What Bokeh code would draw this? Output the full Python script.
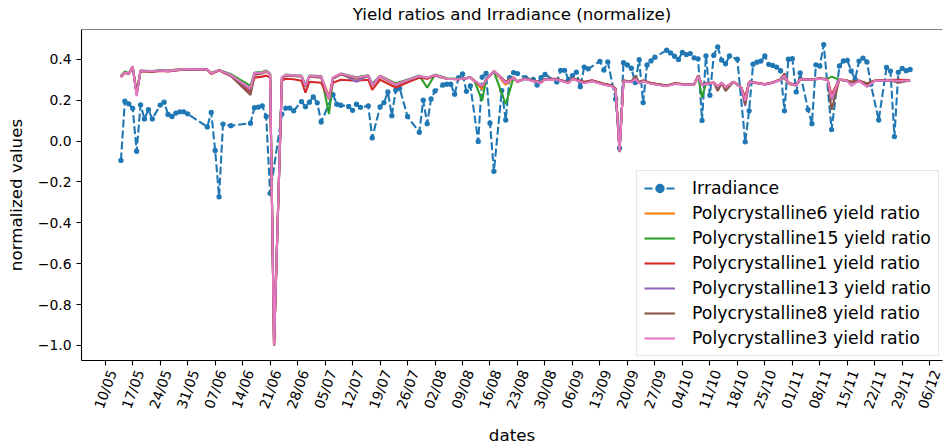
import math
import pandas as pd
from bokeh.plotting import figure
from bokeh.models import (ColumnDataSource, Range1d, FixedTicker, CustomJSTickFormatter,
                          Legend, LegendItem, Span)
from bokeh.embed import file_html
from bokeh.resources import INLINE

YEAR = "2019"

# ---- irradiance (normalized), daily samples ----
irr_dates = ["05-14", "05-15", "05-16", "05-17", "05-18", "05-19", "05-20", "05-21", "05-22", "05-24",
             "05-25", "05-26", "05-27", "05-28", "05-29", "05-30", "05-31", "06-05", "06-06", "06-07",
             "06-08", "06-09", "06-11", "06-16", "06-17", "06-18", "06-19", "06-20", "06-21", "06-24",
             "06-25", "06-26", "06-27", "06-29", "06-30", "07-01", "07-02", "07-03", "07-04", "07-07",
             "07-08", "07-09", "07-11", "07-12", "07-13", "07-14", "07-16", "07-17", "07-19", "07-20",
             "07-21", "07-22", "07-23", "07-24", "07-26", "07-29", "07-30", "07-31", "08-01", "08-02",
             "08-04", "08-05", "08-06", "08-07", "08-08", "08-09", "08-10", "08-11", "08-13", "08-14",
             "08-15", "08-16", "08-17", "08-19", "08-20", "08-21", "08-22", "08-23", "08-25", "08-27",
             "08-28", "08-29", "08-30", "09-02", "09-03", "09-04", "09-05", "09-06", "09-07", "09-08",
             "09-09", "09-10", "09-13", "09-14", "09-15", "09-17", "09-18", "09-19", "09-20", "09-21",
             "09-22", "09-23", "09-24", "09-25", "09-26", "09-27", "09-30", "10-01", "10-02", "10-03",
             "10-04", "10-05", "10-06", "10-07", "10-08", "10-09", "10-10", "10-11", "10-12", "10-13",
             "10-14", "10-15", "10-16", "10-18", "10-20", "10-21", "10-22", "10-23", "10-24", "10-25",
             "10-26", "10-27", "10-28", "10-29", "10-30", "10-31", "11-01", "11-02", "11-03", "11-05",
             "11-06", "11-07", "11-08", "11-09", "11-11", "11-13", "11-14", "11-15", "11-16", "11-17",
             "11-18", "11-19", "11-20", "11-21", "11-23", "11-25", "11-26", "11-27", "11-28", "11-29",
             "11-30", "12-01"]
irradiance = [-0.095, 0.195, 0.182, 0.16, -0.05, 0.177, 0.108, 0.153, 0.108, 0.176,
              0.19, 0.13, 0.12, 0.137, 0.143, 0.143, 0.133, 0.069, 0.14, -0.046,
              -0.273, 0.083, 0.075, 0.087, 0.163, 0.166, 0.172, 0.12, -0.256, 0.132,
              0.161, 0.161, 0.148, 0.193, 0.168, 0.19, 0.216, 0.187, 0.093, 0.227,
              0.18, 0.175, 0.169, 0.15, 0.18, 0.165, 0.172, 0.015, 0.167, 0.188,
              0.24, 0.124, 0.25, 0.258, 0.12, 0.043, 0.2, 0.085, 0.206, 0.245,
              0.274, 0.278, 0.278, 0.229, 0.31, 0.328, 0.243, 0.27, -0.002, 0.313,
              0.331, 0.087, -0.148, 0.247, 0.103, 0.31, 0.335, 0.33, 0.31, 0.302,
              0.274, 0.31, 0.326, 0.289, 0.346, 0.346, 0.302, 0.32, 0.337, 0.266,
              0.362, 0.353, 0.39, 0.347, 0.387, 0.205, -0.035, 0.383, 0.372, 0.356,
              0.286, 0.398, 0.188, 0.372, 0.392, 0.41, 0.444, 0.431, 0.415, 0.399,
              0.433, 0.423, 0.428, 0.407, 0.402, 0.101, 0.417, 0.224, 0.42, 0.46,
              0.396, 0.378, 0.416, 0.4, -0.004, 0.148, 0.376, 0.386, 0.391, 0.416,
              0.375, 0.37, 0.362, 0.344, 0.148, 0.4, 0.403, 0.24, 0.333, 0.154,
              0.085, 0.373, 0.367, 0.472, 0.056, 0.367, 0.392, 0.395, 0.343, 0.302,
              0.391, 0.406, 0.387, 0.278, 0.103, 0.36, 0.342, 0.022, 0.336, 0.355,
              0.344, 0.35]

# ---- yield ratios (normalized) ----
yield_dates = ["05-14", "05-15", "05-16", "05-17", "05-18", "05-19", "05-22", "05-24", "05-26", "05-28",
               "05-31", "06-05", "06-06", "06-08", "06-11", "06-16", "06-17", "06-19", "06-20", "06-21",
               "06-22", "06-24", "06-25", "06-27", "06-29", "06-30", "07-01", "07-04", "07-06", "07-07",
               "07-09", "07-13", "07-16", "07-17", "07-19", "07-23", "07-27", "07-29", "07-31", "08-02",
               "08-05", "08-08", "08-11", "08-12", "08-14", "08-15", "08-17", "08-20", "08-22", "08-23",
               "08-25", "08-27", "08-29", "08-30", "09-02", "09-05", "09-06", "09-09", "09-11", "09-14",
               "09-16", "09-17", "09-18", "09-19", "09-21", "09-22", "09-23", "09-24", "09-26", "09-30",
               "10-02", "10-05", "10-07", "10-08", "10-09", "10-10", "10-12", "10-13", "10-14", "10-15",
               "10-17", "10-19", "10-20", "10-21", "10-25", "10-27", "10-29", "10-30", "10-31", "11-01",
               "11-02", "11-03", "11-06", "11-08", "11-10", "11-11", "11-13", "11-15", "11-16", "11-18",
               "11-20", "11-22", "11-26", "11-28", "12-01"]

poly6 = [0.315, 0.335, 0.33, 0.362, 0.235, 0.343, 0.34, 0.345, 0.343, 0.348,
         0.352, 0.35, 0.331, 0.347, 0.325, 0.255, 0.33, 0.335, 0.34, 0.326,
         -1.0, 0.31, 0.322, 0.32, 0.318, 0.27, 0.318, 0.315, 0.22, 0.31,
         0.328, 0.31, 0.32, 0.275, 0.318, 0.28, 0.305, 0.318, 0.305, 0.323,
         0.305, 0.302, 0.31, 0.294, 0.253, 0.3, 0.342, 0.275, 0.31, 0.29,
         0.305, 0.294, 0.285, 0.302, 0.302, 0.285, 0.305, 0.285, 0.294, 0.277,
         0.27, 0.253, -0.045, 0.294, 0.289, 0.305, 0.285, 0.294, 0.282, 0.27,
         0.28, 0.277, 0.277, 0.318, 0.275, 0.28, 0.285, 0.265, 0.285, 0.262,
         0.29, 0.262, 0.205, 0.29, 0.277, 0.285, 0.3, 0.312, 0.28, 0.274,
         0.273, 0.302, 0.3, 0.305, 0.3, 0.22, 0.3, 0.294, 0.289, 0.294,
         0.278, 0.294, 0.297, 0.294, 0.296]
poly15 = [0.318, 0.34, 0.332, 0.36, 0.24, 0.345, 0.342, 0.347, 0.345, 0.35,
          0.352, 0.35, 0.333, 0.348, 0.327, 0.27, 0.335, 0.338, 0.345, 0.33,
          -1.0, 0.312, 0.325, 0.322, 0.32, 0.275, 0.32, 0.318, 0.132, 0.305,
          0.33, 0.312, 0.322, 0.28, 0.32, 0.282, 0.307, 0.32, 0.261, 0.325,
          0.307, 0.305, 0.312, 0.296, 0.197, 0.302, 0.34, 0.18, 0.31, 0.29,
          0.305, 0.294, 0.285, 0.302, 0.302, 0.285, 0.305, 0.285, 0.294, 0.277,
          0.27, 0.253, -0.045, 0.294, 0.289, 0.305, 0.285, 0.294, 0.282, 0.27,
          0.28, 0.277, 0.277, 0.318, 0.213, 0.28, 0.285, 0.265, 0.285, 0.262,
          0.29, 0.262, 0.21, 0.29, 0.277, 0.285, 0.3, 0.31, 0.285, 0.278,
          0.273, 0.302, 0.3, 0.305, 0.305, 0.315, 0.3, 0.294, 0.289, 0.294,
          0.28, 0.294, 0.297, 0.293, 0.295]
poly1 = [0.312, 0.333, 0.328, 0.36, 0.232, 0.342, 0.338, 0.343, 0.34, 0.345,
         0.35, 0.348, 0.328, 0.345, 0.318, 0.24, 0.31, 0.315, 0.32, 0.31,
         -1.0, 0.295, 0.305, 0.302, 0.295, 0.237, 0.29, 0.285, 0.205, 0.285,
         0.3, 0.295, 0.3, 0.25, 0.3, 0.262, 0.295, 0.31, 0.305, 0.32,
         0.305, 0.302, 0.31, 0.295, 0.27, 0.3, 0.342, 0.29, 0.312, 0.292,
         0.306, 0.296, 0.287, 0.304, 0.304, 0.288, 0.307, 0.29, 0.297, 0.28,
         0.273, 0.256, -0.045, 0.296, 0.29, 0.308, 0.287, 0.296, 0.284, 0.272,
         0.282, 0.278, 0.278, 0.318, 0.276, 0.282, 0.286, 0.267, 0.286, 0.264,
         0.291, 0.263, 0.21, 0.291, 0.279, 0.287, 0.302, 0.312, 0.286, 0.28,
         0.275, 0.304, 0.302, 0.307, 0.302, 0.225, 0.302, 0.296, 0.29, 0.296,
         0.282, 0.296, 0.299, 0.3, 0.298]
poly13 = [0.315, 0.335, 0.33, 0.363, 0.228, 0.344, 0.34, 0.345, 0.343, 0.347,
          0.352, 0.35, 0.331, 0.347, 0.322, 0.25, 0.33, 0.334, 0.342, 0.326,
          -1.0, 0.31, 0.322, 0.32, 0.318, 0.27, 0.318, 0.315, 0.21, 0.31,
          0.33, 0.29, 0.32, 0.275, 0.318, 0.277, 0.305, 0.318, 0.31, 0.323,
          0.305, 0.302, 0.31, 0.294, 0.27, 0.3, 0.342, 0.285, 0.31, 0.29,
          0.305, 0.294, 0.285, 0.302, 0.302, 0.285, 0.305, 0.285, 0.294, 0.276,
          0.27, 0.252, -0.048, 0.294, 0.288, 0.303, 0.284, 0.293, 0.281, 0.27,
          0.28, 0.276, 0.276, 0.315, 0.272, 0.278, 0.284, 0.262, 0.284, 0.26,
          0.289, 0.26, 0.172, 0.288, 0.276, 0.284, 0.299, 0.315, 0.284, 0.277,
          0.272, 0.301, 0.3, 0.305, 0.3, 0.2, 0.3, 0.294, 0.285, 0.294,
          0.266, 0.294, 0.297, 0.294, 0.296]
poly8 = [0.314, 0.334, 0.33, 0.365, 0.225, 0.343, 0.34, 0.345, 0.342, 0.347,
         0.351, 0.349, 0.33, 0.346, 0.318, 0.225, 0.325, 0.33, 0.34, 0.324,
         -1.0, 0.305, 0.32, 0.318, 0.315, 0.265, 0.315, 0.31, 0.205, 0.305,
         0.325, 0.305, 0.318, 0.27, 0.315, 0.275, 0.302, 0.315, 0.308, 0.322,
         0.305, 0.302, 0.31, 0.294, 0.265, 0.3, 0.342, 0.29, 0.31, 0.29,
         0.305, 0.294, 0.286, 0.302, 0.302, 0.287, 0.305, 0.288, 0.296, 0.28,
         0.272, 0.255, -0.055, 0.296, 0.292, 0.318, 0.288, 0.296, 0.284, 0.272,
         0.281, 0.278, 0.278, 0.318, 0.275, 0.28, 0.286, 0.245, 0.283, 0.245,
         0.29, 0.262, 0.18, 0.29, 0.278, 0.286, 0.302, 0.331, 0.286, 0.278,
         0.274, 0.303, 0.301, 0.306, 0.3, 0.153, 0.301, 0.295, 0.289, 0.295,
         0.28, 0.295, 0.297, 0.285, 0.296]
poly3 = [0.315, 0.334, 0.33, 0.366, 0.22, 0.345, 0.341, 0.345, 0.343, 0.348,
         0.352, 0.35, 0.331, 0.347, 0.322, 0.258, 0.332, 0.334, 0.342, 0.326,
         -1.0, 0.312, 0.323, 0.321, 0.318, 0.27, 0.318, 0.315, 0.205, 0.31,
         0.33, 0.31, 0.321, 0.273, 0.318, 0.277, 0.305, 0.318, 0.31, 0.323,
         0.305, 0.302, 0.31, 0.294, 0.27, 0.3, 0.342, 0.285, 0.31, 0.29,
         0.304, 0.293, 0.284, 0.301, 0.3, 0.284, 0.303, 0.283, 0.292, 0.275,
         0.268, 0.25, -0.05, 0.292, 0.288, 0.303, 0.283, 0.292, 0.28, 0.268,
         0.279, 0.276, 0.277, 0.316, 0.273, 0.279, 0.285, 0.268, 0.285, 0.263,
         0.29, 0.262, 0.197, 0.29, 0.277, 0.285, 0.3, 0.32, 0.285, 0.278,
         0.273, 0.302, 0.3, 0.305, 0.3, 0.21, 0.302, 0.294, 0.27, 0.294,
         0.266, 0.294, 0.297, 0.294, 0.296]

yield_series = [
    ("Polycrystalline6 yield ratio", poly6, "#ff7f0e"),
    ("Polycrystalline15 yield ratio", poly15, "#2ca02c"),
    ("Polycrystalline1 yield ratio", poly1, "#d62728"),
    ("Polycrystalline13 yield ratio", poly13, "#9467bd"),
    ("Polycrystalline8 yield ratio", poly8, "#8c564b"),
    ("Polycrystalline3 yield ratio", poly3, "#e377c2"),
]

# weekly date ticks (labelled dd/mm) and value ticks
x_ticks = pd.date_range(f"{YEAR}-05-10", f"{YEAR}-12-06", freq="7D")
x_tick_labels = [t.strftime("%d/%m") for t in x_ticks]
y_ticks = [-1.0, -0.8, -0.6, -0.4, -0.2, 0.0, 0.2, 0.4]

FONT = "DejaVu Sans"
Y_LO, Y_HI = -1.0736, 0.5456
# rotated labels are anchored at their upper end; nudge that end right of the
# tick so each label's box sits centred under its tick mark
LABEL_NUDGE_MS = 43 * 3600 * 1000

irr_src = ColumnDataSource(dict(x=pd.to_datetime([f"{YEAR}-{d}" for d in irr_dates]), y=irradiance))
ydates = pd.to_datetime([f"{YEAR}-{d}" for d in yield_dates])

p = figure(width=943, height=447, x_axis_type="datetime",
           output_backend="svg", toolbar_location=None,
           x_range=Range1d(pd.Timestamp(f"{YEAR}-05-03 23:00"), pd.Timestamp(f"{YEAR}-12-09 06:00")),
           y_range=Range1d(Y_LO, Y_HI),
           min_border_left=81, min_border_right=1, min_border_top=28, min_border_bottom=85,
           title="Yield ratios and Irradiance (normalize)")

p.title.text_font = FONT
p.title.text_font_size = "16.7px"
p.title.text_font_style = "normal"
p.title.align = "center"
p.title.vertical_align = "top"
p.title.text_color = "black"
p.title.standoff = 7

p.background_fill_color = "white"
p.border_fill_color = "white"
p.outline_line_color = None
p.grid.grid_line_color = None

# irradiance: dashed line with point markers
irr_line = p.line("x", "y", source=irr_src, color="#1f77b4", line_width=2.1, line_dash="8 3")
irr_pts = p.scatter("x", "y", source=irr_src, size=4.0, fill_color="#1f77b4",
                    line_color="#1f77b4", line_width=1.3)

items = [LegendItem(label="Irradiance", renderers=[irr_line, irr_pts])]
for label, vals, color in yield_series:
    r = p.line(ydates, vals, color=color, line_width=2.1)
    items.append(LegendItem(label=label, renderers=[r]))

# top border of the axes box
p.add_layout(Span(location=Y_HI, dimension="width", line_color="black", line_width=1.1))

# x axis: tick marks drawn at the week boundaries, labels placed at nudged positions
tick_ms = [int(t.timestamp() * 1000) for t in x_ticks]
label_ms = [m + LABEL_NUDGE_MS for m in tick_ms]
p.xaxis.ticker = FixedTicker(ticks=label_ms, minor_ticks=tick_ms)
p.xaxis.major_label_overrides = dict(zip(label_ms, x_tick_labels))
p.xaxis.major_label_orientation = math.radians(70)
p.xaxis.major_tick_line_color = None
p.xaxis.minor_tick_line_color = "black"
p.xaxis.minor_tick_line_width = 1.1
p.xaxis.minor_tick_out = 5
p.xaxis.minor_tick_in = 0
p.xaxis.axis_label = "dates"
p.xaxis.axis_label_standoff = 8

p.yaxis.ticker = FixedTicker(ticks=y_ticks)
p.yaxis.formatter = CustomJSTickFormatter(
    code="return (tick < 0 ? '\u2212' : '') + Math.abs(tick).toFixed(1);")
p.yaxis.axis_label = "normalized values"
p.yaxis.axis_label_standoff = 9
p.yaxis.major_tick_line_color = "black"
p.yaxis.minor_tick_line_color = None

for ax in (p.xaxis, p.yaxis):
    ax.axis_line_color = "black"
    ax.axis_line_width = 1.1
    ax.major_tick_line_width = 1.1
    ax.major_tick_out = 5
    ax.major_tick_in = 0
    ax.major_label_text_font = FONT
    ax.major_label_text_font_size = "13.9px"
    ax.major_label_text_color = "black"
    ax.major_label_standoff = 5
    ax.axis_label_text_font = FONT
    ax.axis_label_text_font_size = "16.7px"
    ax.axis_label_text_font_style = "normal"
    ax.axis_label_text_color = "black"

legend = Legend(items=items, location=(555, 4),
                label_text_font=FONT, label_text_font_size="17.3px", label_text_color="black",
                glyph_width=31, glyph_height=20, label_height=20, spacing=5,
                padding=7, label_standoff=17, margin=0,
                border_line_color="#cccccc", border_line_width=1,
                background_fill_color="white", background_fill_alpha=0.8)
p.add_layout(legend, "center")

open("out.html", "w").write(file_html(p, INLINE))
